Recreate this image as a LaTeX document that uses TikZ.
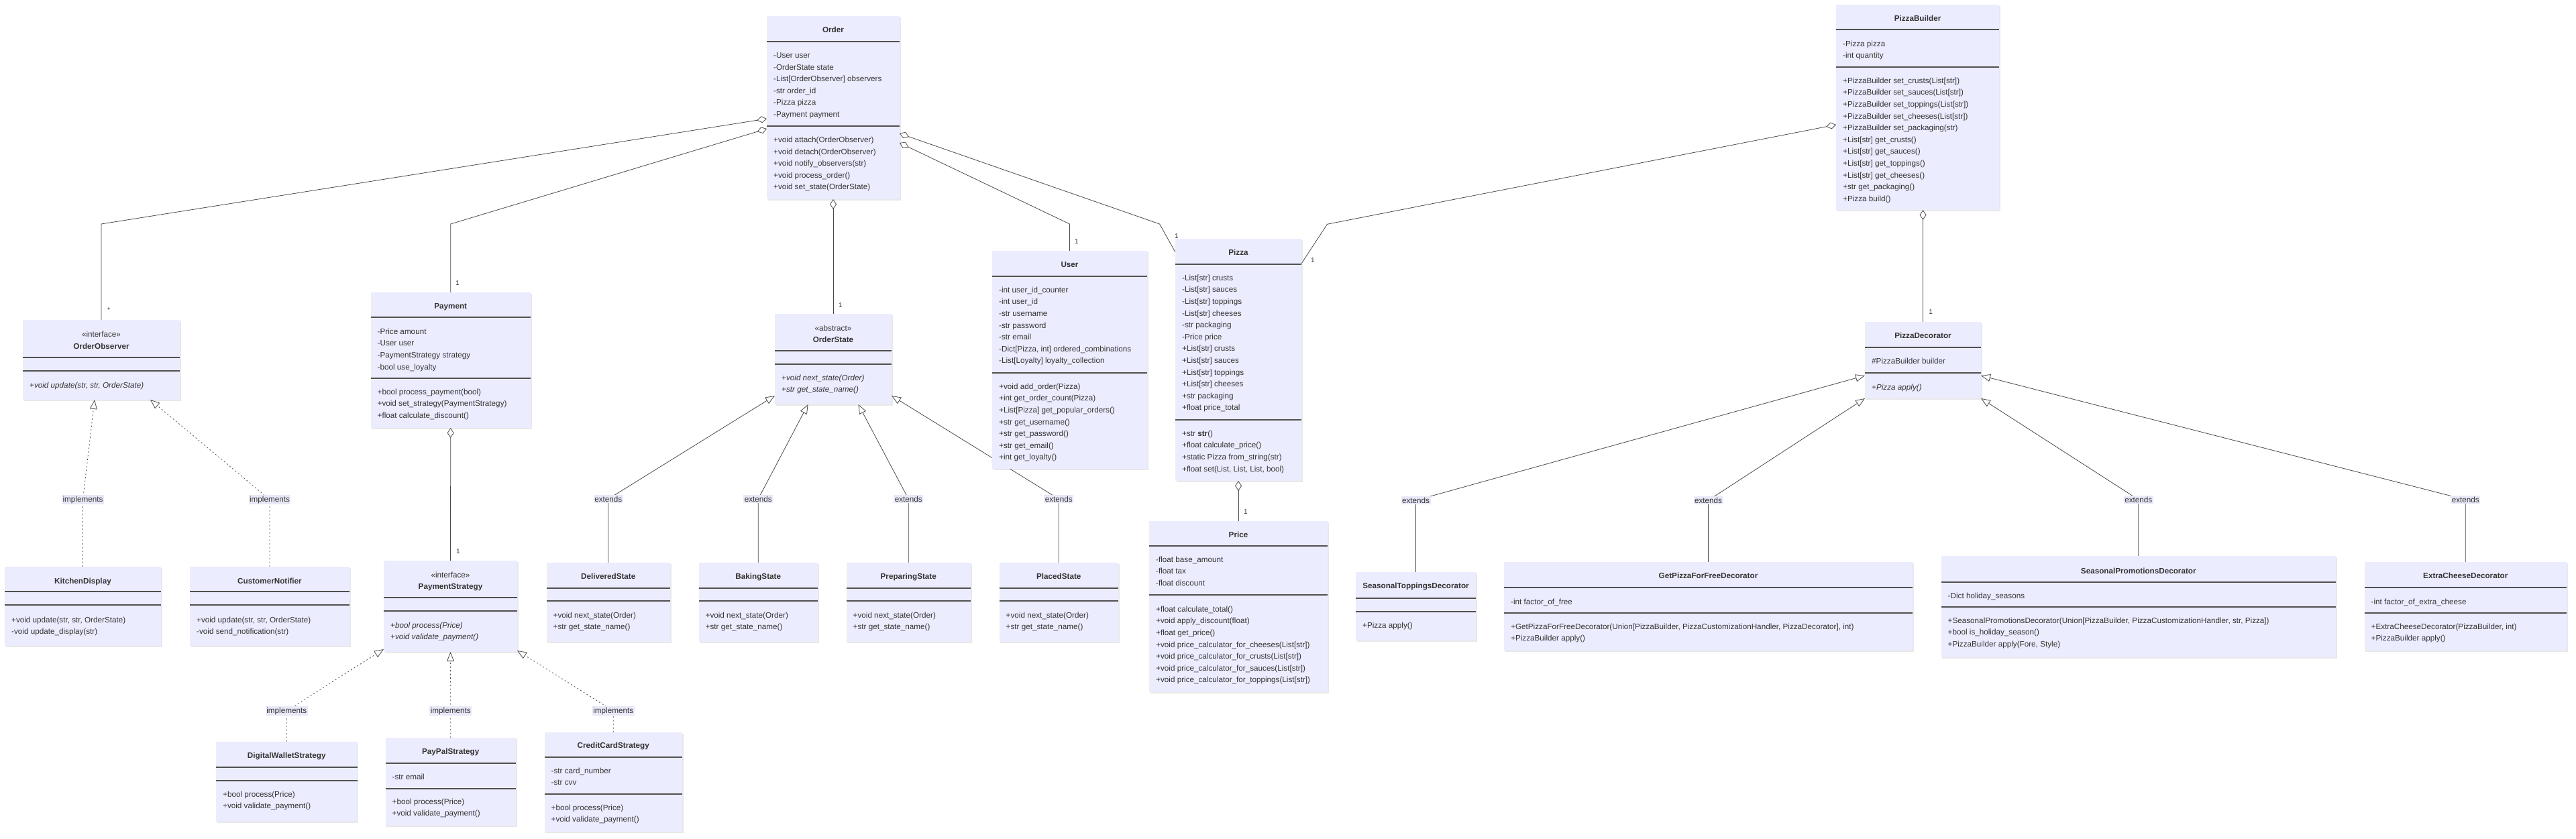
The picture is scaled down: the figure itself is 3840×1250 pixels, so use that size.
\documentclass[tikz,border=0pt]{standalone}
\usepackage{fontspec}
\setmainfont{Liberation Sans}
\usetikzlibrary{arrows.meta,shadows,calc}
\pgfdeclarelayer{bg}
\pgfdeclarelayer{paper}
\pgfsetlayers{paper,bg,main}
\definecolor{boxfill}{HTML}{ECECFF}
\definecolor{divcol}{HTML}{505050}
\definecolor{linecol}{HTML}{4A4A4A}
\definecolor{txtcol}{HTML}{333333}
\definecolor{lblfill}{RGB}{232,232,248}
\newcommand\rowfnt{\fontsize{11.7}{14}\selectfont}
\tikzset{
  classbox/.style={rectangle, fill=boxfill, draw=none, inner sep=0pt, outer sep=0pt,
    drop shadow={shadow xshift=1.5pt, shadow yshift=-2pt, opacity=0.18}},
  divider/.style={draw=divcol, line width=1.4pt},
  rowtxt/.style={anchor=base west, inner sep=0pt, font=\rowfnt, text=txtcol, yshift=-4.2pt},
  ttl/.style={anchor=base, inner sep=0pt, font=\rowfnt\bfseries, text=txtcol, yshift=-4.2pt},
  stereo/.style={anchor=base, inner sep=0pt, font=\rowfnt, text=txtcol, yshift=-4.2pt},
  edgeline/.style={draw=linecol, line width=0.8pt},
  assoc/.style={edgeline, {Diamond[fill=white, length=15pt, width=10pt]}-},
  ext/.style={edgeline, -{Triangle[fill=white, length=14pt, width=11pt]}},
  impl/.style={ext, dash pattern=on 2pt off 3.5pt},
  elabel/.style={fill=lblfill, inner sep=1.5pt, font=\rowfnt, text=txtcol},
  mult/.style={font=\fontsize{10}{12}\selectfont, text=txtcol, inner sep=0pt}
}
\newcommand\uclass[5]{\node[classbox, minimum width={(#4-#2)*1pt}, minimum height={(#5-#3)*1pt}] (#1) at ({(#2+#4)/2},{(#3+#5)/2}) {};}
\newcommand\utitle[3]{\node[ttl] (#1-title) at (#1.center |- 0,#2) {#3};}
\newcommand\ustereo[3]{\node[stereo] (#1-st) at (#1.center |- 0,#2) {#3};}
\newcommand\udiv[2]{\draw[divider] (#1.west |- 0,#2) -- (#1.east |- 0,#2);}
\newcommand\urows[4]{\foreach \t [count=\i] in {#4} {\node[rowtxt] (#1\i) at ({#2+10},{#3+(\i-1)*17.6}) {\t};}}
\begin{document}
\begin{tikzpicture}[x=1pt,y=-1pt]
\useasboundingbox (0,0) rectangle (3840,1250);
\begin{pgfonlayer}{paper}
\fill[white] (0,0) rectangle (3840,1250);
\end{pgfonlayer}

% ---------- Order
\uclass{order}{1143}{24}{1341}{297}
\utitle{order}{44}{Order}
\udiv{order}{62}
\urows{order-a}{1143}{82.3}{{-User user},{-OrderState state},{-List[OrderObserver] observers},{-str order\_id},{-Pizza pizza},{-Payment payment}}
\udiv{order}{188}
\urows{order-m}{1143}{208.3}{{+void attach(OrderObserver)},{+void detach(OrderObserver)},{+void notify\_observers(str)},{+void process\_order()},{+void set\_state(OrderState)}}

% ---------- PizzaBuilder
\uclass{pbuilder}{2737}{7}{2980}{313}
\utitle{pbuilder}{27}{PizzaBuilder}
\udiv{pbuilder}{44}
\urows{pbuilder-a}{2737}{65}{{-Pizza pizza},{-int quantity}}
\udiv{pbuilder}{100}
\urows{pbuilder-m}{2737}{120}{{+PizzaBuilder set\_crusts(List[str])},{+PizzaBuilder set\_sauces(List[str])},{+PizzaBuilder set\_toppings(List[str])},{+PizzaBuilder set\_cheeses(List[str])},{+PizzaBuilder set\_packaging(str)},{+List[str] get\_crusts()},{+List[str] get\_sauces()},{+List[str] get\_toppings()},{+List[str] get\_cheeses()},{+str get\_packaging()},{+Pizza build()}}

% ---------- User
\uclass{user}{1479}{374}{1710}{699}
\utitle{user}{394}{User}
\udiv{user}{412}
\urows{user-a}{1479}{432}{{-int user\_id\_counter},{-int user\_id},{-str username},{-str password},{-str email},{-Dict[Pizza, int] ordered\_combinations},{-List[Loyalty] loyalty\_collection}}
\udiv{user}{556}
\urows{user-m}{1479}{576}{{+void add\_order(Pizza)},{+int get\_order\_count(Pizza)},{+List[Pizza] get\_popular\_orders()},{+str get\_username()},{+str get\_password()},{+str get\_email()},{+int get\_loyalty()}}

% ---------- Pizza
\uclass{pizza}{1752}{356}{1940}{717}
\utitle{pizza}{376}{Pizza}
\udiv{pizza}{394}
\urows{pizza-a}{1752}{414}{{-List[str] crusts},{-List[str] sauces},{-List[str] toppings},{-List[str] cheeses},{-str packaging},{-Price price},{+List[str] crusts},{+List[str] sauces},{+List[str] toppings},{+List[str] cheeses},{+str packaging},{+float price\_total}}
\udiv{pizza}{626}
\urows{pizza-m}{1752}{646}{{+str \textbf{str}()},{+float calculate\_price()},{+static Pizza from\_string(str)},{+float set(List, List, List, bool)}}

% ---------- Price
\uclass{price}{1713}{777}{1979}{1032}
\utitle{price}{797}{Price}
\udiv{price}{814}
\urows{price-a}{1713}{834}{{-float base\_amount},{-float tax},{-float discount}}
\udiv{price}{887}
\urows{price-m}{1713}{908}{{+float calculate\_total()},{+void apply\_discount(float)},{+float get\_price()},{+void price\_calculator\_for\_cheeses(List[str])},{+void price\_calculator\_for\_crusts(List[str])},{+void price\_calculator\_for\_sauces(List[str])},{+void price\_calculator\_for\_toppings(List[str])}}

% ---------- OrderObserver
\uclass{observer}{34}{477}{268}{596}
\ustereo{observer}{498}{«interface»}
\utitle{observer}{516}{OrderObserver}
\udiv{observer}{533}
\udiv{observer}{553}
\urows{observer-m}{34}{574}{{\textit{+void update(str, str, OrderState)}}}

% ---------- Payment
\uclass{payment}{552.5}{436}{791}{638}
\utitle{payment}{456}{Payment}
\udiv{payment}{473}
\urows{payment-a}{552.5}{494}{{-Price amount},{-User user},{-PaymentStrategy strategy},{-bool use\_loyalty}}
\udiv{payment}{564}
\urows{payment-m}{552.5}{584}{{+bool process\_payment(bool)},{+void set\_strategy(PaymentStrategy)},{+float calculate\_discount()}}

% ---------- KitchenDisplay
\uclass{kitchen}{7}{845}{240}{963}
\utitle{kitchen}{866}{KitchenDisplay}
\udiv{kitchen}{882}
\udiv{kitchen}{902}
\urows{kitchen-m}{7}{924}{{+void update(str, str, OrderState)},{-void update\_display(str)}}

% ---------- CustomerNotifier
\uclass{customer}{283}{845}{521}{963}
\utitle{customer}{866}{CustomerNotifier}
\udiv{customer}{882}
\udiv{customer}{902}
\urows{customer-m}{283}{924}{{+void update(str, str, OrderState)},{-void send\_notification(str)}}

% ---------- PaymentStrategy
\uclass{pstrategy}{572}{836}{771}{972}
\ustereo{pstrategy}{857}{«interface»}
\utitle{pstrategy}{874}{PaymentStrategy}
\udiv{pstrategy}{891}
\udiv{pstrategy}{911}
\urows{pstrategy-m}{572}{932}{{\textit{+bool process(Price)}},{\textit{+void validate\_payment()}}}

% ---------- DigitalWalletStrategy
\uclass{digital}{322}{1106}{532.5}{1225}
\utitle{digital}{1126}{DigitalWalletStrategy}
\udiv{digital}{1144}
\udiv{digital}{1164}
\urows{digital-m}{322}{1184}{{+bool process(Price)},{+void validate\_payment()}}

% ---------- PayPalStrategy
\uclass{paypal}{574.5}{1100}{769}{1231}
\utitle{paypal}{1120}{PayPalStrategy}
\udiv{paypal}{1138}
\urows{paypal-a}{574.5}{1158}{{-str email}}
\udiv{paypal}{1176}
\urows{paypal-m}{574.5}{1195}{{+bool process(Price)},{+void validate\_payment()}}

% ---------- CreditCardStrategy
\uclass{credit}{811.5}{1092}{1017}{1240}
\utitle{credit}{1111}{CreditCardStrategy}
\udiv{credit}{1129}
\urows{credit-a}{811.5}{1149}{{-str card\_number},{-str cvv}}
\udiv{credit}{1184}
\urows{credit-m}{811.5}{1204}{{+bool process(Price)},{+void validate\_payment()}}

% ---------- OrderState
\uclass{ostate}{1155}{468}{1329}{603}
\ustereo{ostate}{489}{«abstract»}
\utitle{ostate}{506}{OrderState}
\udiv{ostate}{523}
\udiv{ostate}{543}
\urows{ostate-m}{1155}{563}{{\textit{+void next\_state(Order)}},{\textit{+str get\_state\_name()}}}

% ---------- concrete states
\uclass{delivered}{814.5}{839}{999}{957}
\utitle{delivered}{859}{DeliveredState}
\udiv{delivered}{877}
\udiv{delivered}{896}
\urows{delivered-m}{814.5}{917}{{+void next\_state(Order)},{+str get\_state\_name()}}

\uclass{baking}{1041.5}{839}{1219}{957}
\utitle{baking}{859}{BakingState}
\udiv{baking}{877}
\udiv{baking}{896}
\urows{baking-m}{1041.5}{917}{{+void next\_state(Order)},{+str get\_state\_name()}}

\uclass{preparing}{1261.5}{839}{1447}{957}
\utitle{preparing}{859}{PreparingState}
\udiv{preparing}{877}
\udiv{preparing}{896}
\urows{preparing-m}{1261.5}{917}{{+void next\_state(Order)},{+str get\_state\_name()}}

\uclass{placed}{1489.5}{839}{1667}{957}
\utitle{placed}{859}{PlacedState}
\udiv{placed}{877}
\udiv{placed}{896}
\urows{placed-m}{1489.5}{917}{{+void next\_state(Order)},{+str get\_state\_name()}}

% ---------- PizzaDecorator
\uclass{pdeco}{2780}{480}{2953}{594}
\utitle{pdeco}{500}{PizzaDecorator}
\udiv{pdeco}{518}
\urows{pdeco-a}{2780}{538}{{\#PizzaBuilder builder}}
\udiv{pdeco}{556}
\urows{pdeco-m}{2780}{577}{{\textit{+Pizza apply()}}}

% ---------- decorators
\uclass{seastop}{2021}{853}{2200}{955}
\utitle{seastop}{873}{SeasonalToppingsDecorator}
\udiv{seastop}{892}
\udiv{seastop}{912}
\urows{seastop-m}{2021}{932}{{+Pizza apply()}}

\uclass{getfree}{2242}{838}{2851}{970}
\utitle{getfree}{858}{GetPizzaForFreeDecorator}
\udiv{getfree}{876}
\urows{getfree-a}{2242}{897}{{-int factor\_of\_free}}
\udiv{getfree}{914}
\urows{getfree-m}{2242}{934}{{+GetPizzaForFreeDecorator(Union[PizzaBuilder, PizzaCustomizationHandler, PizzaDecorator], int)},{+PizzaBuilder apply()}}

\uclass{seaspromo}{2893.5}{829}{3482}{980}
\utitle{seaspromo}{851}{SeasonalPromotionsDecorator}
\udiv{seaspromo}{868}
\urows{seaspromo-a}{2893.5}{888}{{-Dict holiday\_seasons}}
\udiv{seaspromo}{905}
\urows{seaspromo-m}{2893.5}{925}{{+SeasonalPromotionsDecorator(Union[PizzaBuilder, PizzaCustomizationHandler, str, Pizza])},{+bool is\_holiday\_season()},{+PizzaBuilder apply(Fore, Style)}}

\uclass{extracheese}{3524.5}{838}{3826}{970}
\utitle{extracheese}{858}{ExtraCheeseDecorator}
\udiv{extracheese}{876}
\urows{extracheese-a}{3524.5}{897}{{-int factor\_of\_extra\_cheese}}
\udiv{extracheese}{914}
\urows{extracheese-m}{3524.5}{934}{{+ExtraCheeseDecorator(PizzaBuilder, int)},{+PizzaBuilder apply()}}

% ---------- edge labels
\node[elabel] (lK) at (123.5,745) {implements};
\node[elabel] (lC) at (402,745) {implements};
\node[elabel] (lD) at (427.25,1060) {implements};
\node[elabel] (lP) at (671.75,1060) {implements};
\node[elabel] (lCC) at (914.25,1060) {implements};
\node[elabel] (lDel) at (906.75,744) {extends};
\node[elabel] (lBak) at (1130.25,744) {extends};
\node[elabel] (lPrep) at (1354.25,744) {extends};
\node[elabel] (lPl) at (1578.25,744) {extends};
\node[elabel] (lST) at (2110.5,746) {extends};
\node[elabel] (lGF) at (2546.5,746) {extends};
\node[elabel] (lSP) at (3187.75,745) {extends};
\node[elabel] (lEC) at (3675.25,745) {extends};

% ---------- multiplicities
\node[mult] (m1) at (162,462) {*};
\node[mult] (m2) at (682,422) {1};
\node[mult] (m3) at (1253,455) {1};
\node[mult] (m4) at (1605,360) {1};
\node[mult] (m5) at (1754,352) {1};
\node[mult] (m6) at (1957,388) {1};
\node[mult] (m7) at (1857,763) {1};
\node[mult] (m8) at (683,822) {1};
\node[mult] (m9) at (2878,465) {1};

% ---------- connectors
\begin{pgfonlayer}{bg}
\draw[assoc] (order.west |- 0,177) -- (observer.north |- 0,334) -- (observer.north);
\draw[assoc] (order.west |- 0,192) -- (payment.north |- 0,334) -- (payment.north);
\draw[assoc] (order.south) -- (ostate.north);
\draw[assoc] (order.east |- 0,213) -- (user.north |- 0,334) -- (user.north);
\draw[assoc] (order.east |- 0,199) -- (1728.6,334) -- (pizza.west |- 0,376);
\draw[assoc] (pbuilder.west |- 0,186) -- (1978.4,334.3) -- (pizza.east |- 0,393);
\draw[assoc] (pdeco.north |- pbuilder.south) -- (pdeco.north);
\draw[assoc] (pizza.south) -- (price.north);
\draw[assoc] (payment.south) -- (pstrategy.north);

\draw[impl] (kitchen.north) -- (lK.center) -- ([xshift=-10pt]observer.south);
\draw[impl] (customer.north) -- (lC.center) -- ([xshift=73pt]observer.south);
\draw[impl] (digital.north) -- (lD.center) -- ([yshift=4pt]pstrategy.south west);
\draw[impl] (paypal.north) -- (lP.center) -- (pstrategy.south);
\draw[impl] (credit.north) -- (lCC.center) -- ([yshift=2pt]pstrategy.south east);

\draw[ext] (delivered.north) -- (lDel.center) -- ([yshift=13pt]ostate.south west);
\draw[ext] (baking.north) -- (lBak.center) -- ([xshift=-37.5pt]ostate.south);
\draw[ext] (preparing.north) -- (lPrep.center) -- ([xshift=37.5pt]ostate.south);
\draw[ext] (placed.north) -- (lPl.center) -- ([yshift=13pt]ostate.south east);

\draw[ext] (seastop.north) -- (lST.center) -- ([yshift=-80pt]pdeco.north west);
\draw[ext] (getfree.north) -- (lGF.center) -- (pdeco.south west);
\draw[ext] (seaspromo.north) -- (lSP.center) -- (pdeco.south east);
\draw[ext] (extracheese.north) -- (lEC.center) -- ([yshift=-80pt]pdeco.north east);
\end{pgfonlayer}
\end{tikzpicture}
\end{document}
